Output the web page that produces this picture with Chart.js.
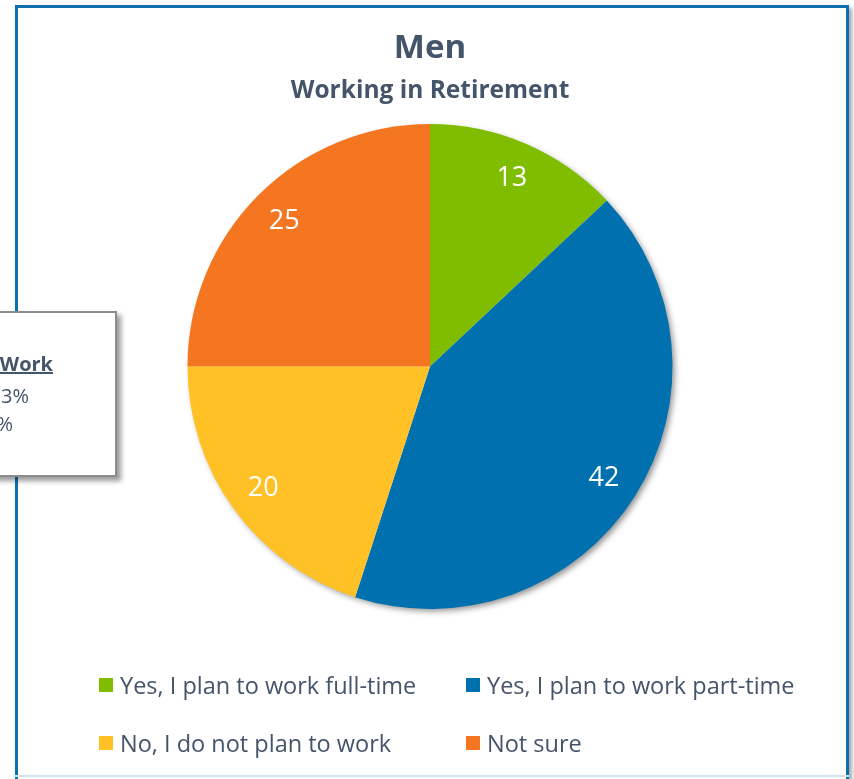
<!DOCTYPE html>
<html>
<head>
<meta charset="utf-8">
<script src="https://cdn.jsdelivr.net/npm/chart.js@4"></script>
<style>
  html, body { margin: 0; padding: 0; background: #ffffff; }
  body { width: 854px; height: 779px; position: relative; overflow: hidden; font-family: "Open Sans", sans-serif; }
  #frame { position: absolute; left: 15px; top: 5px; width: 828px; height: 800px; border: 3px solid #0E6FAF; box-shadow: 3px 3px 4px rgba(0,0,0,0.35); background: #fff; }
  #bottomline { position: absolute; left: 15px; top: 775px; width: 834px; height: 2px; background: #CFE4F0; }
  #wrap { position: absolute; left: 0; top: 0; width: 854px; height: 779px; }
  #note { position: absolute; left: -20px; top: 311px; width: 133px; height: 162px; border: 2px solid #8c8c8c; background: #fff; box-shadow: 4px 4px 5px rgba(0,0,0,0.4); color: #44546A; font-size: 20px; }
  #note .l { position: absolute; white-space: nowrap; }
  #legend { position: absolute; left: 0; top: 0; width: 854px; height: 779px; pointer-events: none; }
  .li { position: absolute; display: flex; align-items: center; color: #44546A; font-size: 23.5px; white-space: nowrap; }
  .sw { width: 14px; height: 14px; margin-right: 7px; }
</style>
</head>
<body>
<div id="frame"></div>
<div id="bottomline"></div>
<div id="wrap"><canvas id="c" width="854" height="779"></canvas></div>
<div id="note">
  <div class="l" style="top:37px;font-weight:bold;text-decoration:underline;right:62px;">Work</div>
  <div class="l" style="top:69px;right:86px;">3%</div>
  <div class="l" style="top:97px;right:102px;">%</div>
</div>
<div id="legend"></div>
<script>
const categories = ["Yes, I plan to work full-time", "Yes, I plan to work part-time", "No, I do not plan to work", "Not sure"];
const values = [13, 42, 20, 25];
const colors = ["#80BC00", "#0070AF", "#FFC125", "#F47621"];
const titleText = "Men";
const subtitleText = "Working in Retirement";

// HTML legend in a 2-column grid
const legendPos = [[99, 686], [466, 686], [99, 744], [466, 744]];
const legendEl = document.getElementById('legend');
categories.forEach((cat, i) => {
  const d = document.createElement('div');
  d.className = 'li';
  d.style.left = legendPos[i][0] + 'px';
  d.style.top = (legendPos[i][1] - 16) + 'px';
  d.style.height = '30px';
  d.innerHTML = '<span class="sw" style="background:' + colors[i] + '"></span><span>' + cat + '</span>';
  legendEl.appendChild(d);
});

const shadowPlugin = {
  id: 'pieShadow',
  beforeDatasetsDraw(chart) {
    const meta = chart.getDatasetMeta(0);
    if (!meta.data.length) return;
    const a = meta.data[0];
    const ctx = chart.ctx;
    ctx.save();
    ctx.shadowColor = 'rgba(0,0,0,0.45)';
    ctx.shadowBlur = 6;
    ctx.shadowOffsetX = 3;
    ctx.shadowOffsetY = 3;
    ctx.fillStyle = '#ffffff';
    ctx.beginPath();
    ctx.arc(a.x, a.y, a.outerRadius - 1, 0, Math.PI * 2);
    ctx.fill();
    ctx.restore();
  }
};

const labelPlugin = {
  id: 'sliceLabels',
  afterDatasetsDraw(chart) {
    const ctx = chart.ctx;
    const meta = chart.getDatasetMeta(0);
    const ds = chart.data.datasets[0];
    ctx.save();
    ctx.fillStyle = '#ffffff';
    ctx.font = '27px "Open Sans", sans-serif';
    ctx.textAlign = 'center';
    ctx.textBaseline = 'middle';
    meta.data.forEach((arc, i) => {
      const mid = (arc.startAngle + arc.endAngle) / 2;
      const r = arc.outerRadius * 0.85;
      ctx.fillText(String(ds.data[i]), arc.x + Math.cos(mid) * r, arc.y + Math.sin(mid) * r + 1);
    });
    ctx.restore();
  }
};

new Chart(document.getElementById('c'), {
  type: 'pie',
  data: {
    labels: categories,
    datasets: [{ data: values, backgroundColor: colors, borderWidth: 0 }]
  },
  options: {
    responsive: false,
    animation: false,
    layout: { padding: { top: 29, left: 6, right: 0, bottom: 170 } },
    plugins: {
      legend: { display: false },
      tooltip: { enabled: false },
      title: {
        display: true, text: titleText, color: '#44546A',
        font: { family: '"Open Sans", sans-serif', size: 33, weight: 'bold' },
        padding: { top: 0, bottom: 0 }
      },
      subtitle: {
        display: true, text: subtitleText, color: '#44546A',
        font: { family: '"Open Sans", sans-serif', size: 24.5, weight: 'bold' },
        padding: { top: 8, bottom: 18 }
      }
    }
  },
  plugins: [shadowPlugin, labelPlugin]
});
</script>
</body>
</html>
